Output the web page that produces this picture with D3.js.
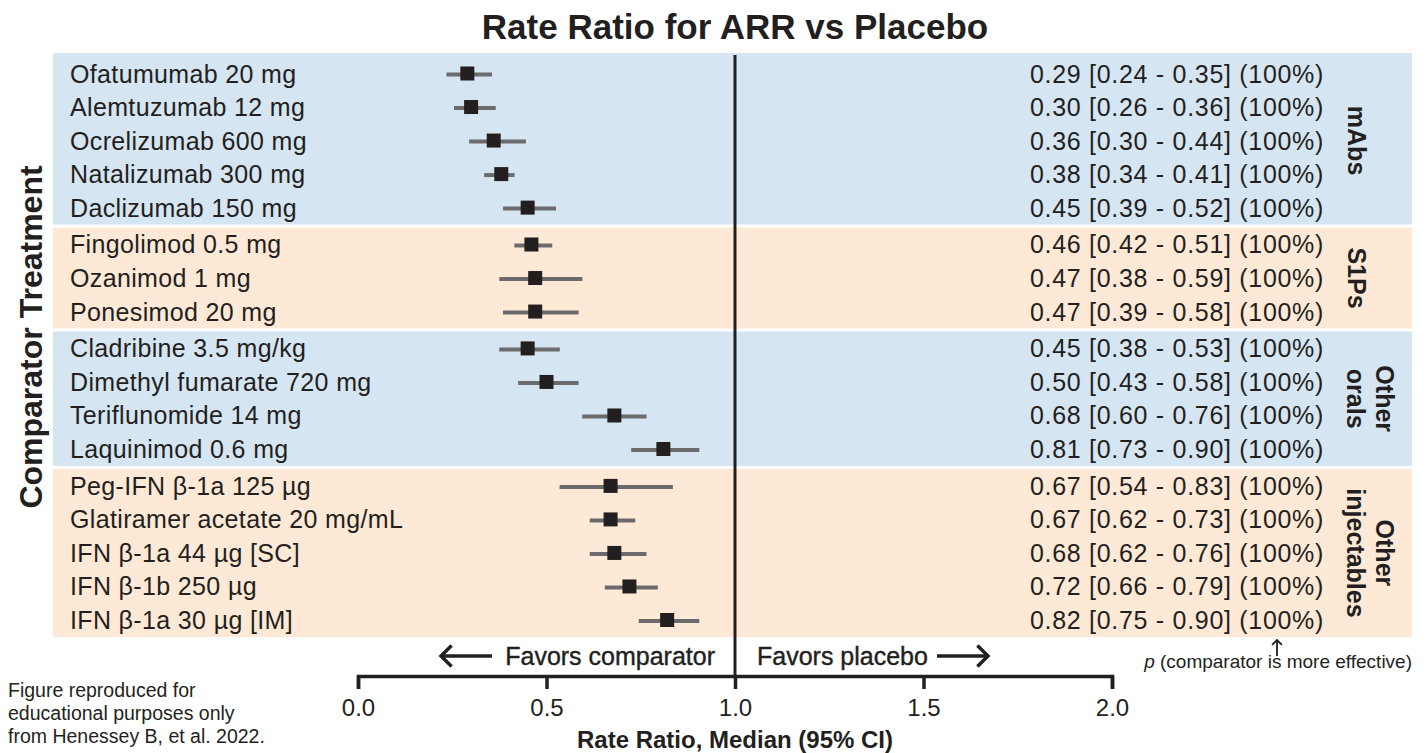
<!DOCTYPE html>
<html>
<head>
<meta charset="utf-8">
<script src="https://cdn.jsdelivr.net/npm/d3@7"></script>
<style>
  body { margin: 0; background: #fff; }
  text { font-family: "Liberation Sans", Arial, sans-serif; fill: #231f20; }
</style>
</head>
<body>
<script>
//=== Data ===
const drugs = [
  "Ofatumumab 20 mg", "Alemtuzumab 12 mg", "Ocrelizumab 600 mg", "Natalizumab 300 mg", "Daclizumab 150 mg",
  "Fingolimod 0.5 mg", "Ozanimod 1 mg", "Ponesimod 20 mg",
  "Cladribine 3.5 mg/kg", "Dimethyl fumarate 720 mg", "Teriflunomide 14 mg", "Laquinimod 0.6 mg",
  "Peg-IFN \u03b2-1a 125 \u00b5g", "Glatiramer acetate 20 mg/mL", "IFN \u03b2-1a 44 \u00b5g [SC]", "IFN \u03b2-1b 250 \u00b5g", "IFN \u03b2-1a 30 \u00b5g [IM]"
]
const medians = [0.29, 0.30, 0.36, 0.38, 0.45, 0.46, 0.47, 0.47, 0.45, 0.50, 0.68, 0.81, 0.67, 0.67, 0.68, 0.72, 0.82]
const lower   = [0.24, 0.26, 0.30, 0.34, 0.39, 0.42, 0.38, 0.39, 0.38, 0.43, 0.60, 0.73, 0.54, 0.62, 0.62, 0.66, 0.75]
const upper   = [0.35, 0.36, 0.44, 0.41, 0.52, 0.51, 0.59, 0.58, 0.53, 0.58, 0.76, 0.90, 0.83, 0.73, 0.76, 0.79, 0.90]
const probs   = [100, 100, 100, 100, 100, 100, 100, 100, 100, 100, 100, 100, 100, 100, 100, 100, 100]
const groupOf = [0, 0, 0, 0, 0, 1, 1, 1, 2, 2, 2, 2, 3, 3, 3, 3, 3]
const groups = [["mAbs"], ["S1Ps"], ["Other", "orals"], ["Other", "injectables"]]
const groupColors = ["#d6e5f2", "#fde9d6"]
const tickValues = [0, 0.5, 1.0, 1.5, 2.0]

const W = 1427, H = 753
const svg = d3.select("body").append("svg")
  .attr("width", W)
  .attr("height", H)

const x = d3.scaleLinear().domain([0, 2]).range([358, 1112])
// slot = row index + a small gap for each group
const slot = i => i + groupOf[i] * 0.1
const y = d3.scaleLinear().domain([0, 16.3]).range([73.5, 620])

const fmt = d3.format(".2f")

// group background panels
const panelLeft = 53, panelRight = 1412
const gInfo = groups.map((g, k) => {
  const idx = d3.range(drugs.length).filter(i => groupOf[i] === k)
  return { k, first: d3.min(idx), last: d3.max(idx), label: g }
})
gInfo.forEach((g, k) => {
  const top = k === 0 ? 53 : (y(slot(gInfo[k - 1].last)) + y(slot(g.first))) / 2 + 1.5
  const bottom = k === gInfo.length - 1 ? 637 : (y(slot(g.last)) + y(slot(gInfo[k + 1].first))) / 2 - 1.5
  g.top = top; g.bottom = bottom
})

svg.append("g").selectAll("rect")
  .data(gInfo)
  .enter()
  .append("rect")
  .attr("x", panelLeft)
  .attr("y", d => d.top)
  .attr("width", panelRight - panelLeft)
  .attr("height", d => d.bottom - d.top)
  .attr("fill", d => groupColors[d.k % 2])

// title
svg.append("text")
  .attr("x", 735).attr("y", 39)
  .attr("text-anchor", "middle")
  .attr("font-size", 35)
  .attr("font-weight", "bold")
  .text("Rate Ratio for ARR vs Placebo")

// y title
svg.append("text")
  .attr("transform", "translate(42,337) rotate(-90)")
  .attr("text-anchor", "middle")
  .attr("font-size", 32)
  .attr("font-weight", "bold")
  .text("Comparator Treatment")

// row labels
svg.append("g").selectAll("text")
  .data(drugs)
  .enter()
  .append("text")
  .attr("x", 70)
  .attr("y", (d, i) => y(slot(i)))
  .attr("dy", "0.36em")
  .attr("font-size", 25)
  .attr("letter-spacing", 0.35)
  .text(d => d)

// right-hand estimates
svg.append("g").selectAll("text")
  .data(drugs)
  .enter()
  .append("text")
  .attr("x", 1030)
  .attr("y", (d, i) => y(slot(i)))
  .attr("dy", "0.36em")
  .attr("font-size", 25)
  .attr("letter-spacing", 0.7)
  .text((d, i) => fmt(medians[i]) + " [" + fmt(lower[i]) + " - " + fmt(upper[i]) + "] (" + probs[i] + "%)")

// group labels (rotated)
const gl = svg.append("g").selectAll("text")
  .data(gInfo)
  .enter()
  .append("text")
  .attr("transform", d => {
    const cy = (y(slot(d.first)) + y(slot(d.last))) / 2
    const cx = d.label.length === 1 ? 1348 : 1376
    return "translate(" + cx + "," + cy + ") rotate(90)"
  })
  .attr("text-anchor", "middle")
  .attr("font-size", 25)
  .attr("font-weight", "bold")
gl.selectAll("tspan")
  .data(d => d.label)
  .enter()
  .append("tspan")
  .attr("x", 0)
  .attr("dy", (d, i) => i === 0 ? 0 : 29)
  .text(d => d)

// CI lines
svg.append("g").selectAll("line")
  .data(drugs)
  .enter()
  .append("line")
  .attr("x1", (d, i) => x(lower[i]))
  .attr("x2", (d, i) => x(upper[i]))
  .attr("y1", (d, i) => y(slot(i)) + 1)
  .attr("y2", (d, i) => y(slot(i)) + 1)
  .attr("stroke", "#6b6b6d")
  .attr("stroke-width", 4)
  .attr("stroke-linecap", "square")

// median squares
const sq = 14
svg.append("g").selectAll("rect")
  .data(drugs)
  .enter()
  .append("rect")
  .attr("x", (d, i) => x(medians[i]) - sq / 2)
  .attr("y", (d, i) => y(slot(i)) - sq / 2)
  .attr("width", sq)
  .attr("height", sq)
  .attr("fill", "#231f20")

// reference line at 1
const axisY = 676
svg.append("line")
  .attr("x1", x(1)).attr("x2", x(1))
  .attr("y1", 55).attr("y2", axisY)
  .attr("stroke", "#231f20")
  .attr("stroke-width", 3)

// x axis
const xAxis = svg.append("g")
  .attr("transform", "translate(0," + axisY + ")")
  .call(d3.axisBottom(x).tickValues(tickValues).tickFormat(d3.format(".1f")).tickSizeOuter(0).tickSize(13).tickPadding(10))
xAxis.select(".domain").attr("stroke", "#231f20").attr("stroke-width", 3.5)
xAxis.selectAll(".tick line").attr("stroke", "#231f20").attr("stroke-width", 3.5)
xAxis.selectAll(".tick text")
  .attr("font-family", "Liberation Sans, Arial, sans-serif")
  .attr("font-size", 24)
  .attr("fill", "#231f20")

svg.append("text")
  .attr("x", 735).attr("y", 748)
  .attr("text-anchor", "middle")
  .attr("font-size", 24)
  .attr("font-weight", "bold")
  .text("Rate Ratio, Median (95% CI)")

// favors labels with arrows
const favY = 656
svg.append("text")
  .attr("x", 715).attr("y", favY).attr("dy", "0.36em")
  .attr("text-anchor", "end")
  .attr("font-size", 25)
  .attr("stroke", "#231f20").attr("stroke-width", 0.4)
  .text("Favors comparator")
svg.append("text")
  .attr("x", 757).attr("y", favY).attr("dy", "0.36em")
  .attr("font-size", 25)
  .attr("stroke", "#231f20").attr("stroke-width", 0.4)
  .text("Favors placebo")

const arrows = [
  { x1: 492, x2: 441, y1: favY, y2: favY },
  { x1: 937, x2: 988, y1: favY, y2: favY },
  { x1: 1277, x2: 1277, y1: 656, y2: 640 }
]
arrows.forEach((a, k) => {
  const g = svg.append("g").attr("stroke", "#231f20").attr("fill", "none")
  const big = k < 2
  g.append("line")
    .attr("x1", a.x1).attr("y1", a.y1).attr("x2", a.x2).attr("y2", a.y2)
    .attr("stroke-width", big ? 3.5 : 1.8)
  const ang = Math.atan2(a.y2 - a.y1, a.x2 - a.x1)
  const L = big ? 15 : 7, spread = Math.PI / 4
  const p1 = [a.x2 - L * Math.cos(ang - spread), a.y2 - L * Math.sin(ang - spread)]
  const p2 = [a.x2 - L * Math.cos(ang + spread), a.y2 - L * Math.sin(ang + spread)]
  g.append("path")
    .attr("d", d3.line()([p1, [a.x2, a.y2], p2]))
    .attr("stroke-width", big ? 3.5 : 1.8)
    .attr("stroke-linejoin", "miter")
})

// probability note
const pn = svg.append("text")
  .attr("x", 1412).attr("y", 668)
  .attr("text-anchor", "end")
  .attr("font-size", 19)
pn.append("tspan").attr("font-style", "italic").text("p")
pn.append("tspan").text(" (comparator is more effective)")

// footnote
const foot = ["Figure reproduced for", "educational purposes only", "from Henessey B, et al. 2022."]
svg.append("g").selectAll("text")
  .data(foot)
  .enter()
  .append("text")
  .attr("x", 8)
  .attr("y", (d, i) => 697 + i * 23)
  .attr("font-size", 19.5)
  .text(d => d)
</script>
</body>
</html>
